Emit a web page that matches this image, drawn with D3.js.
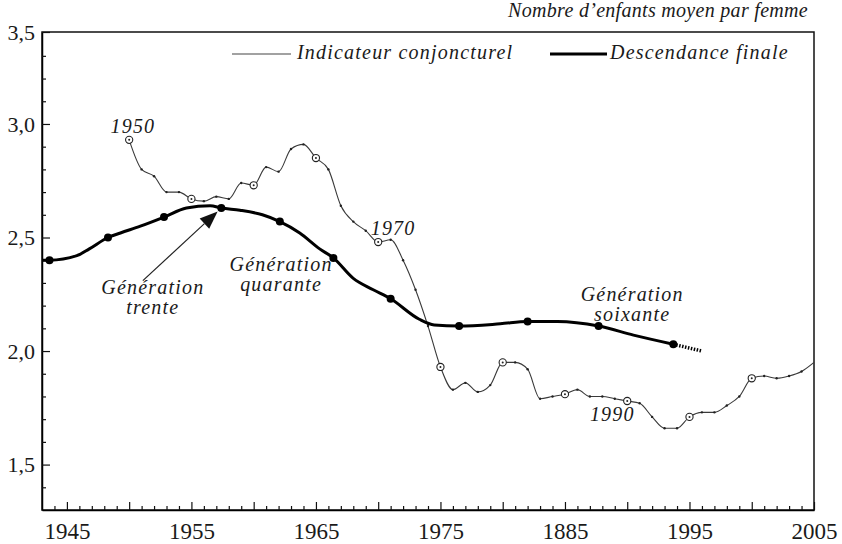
<!DOCTYPE html>
<html>
<head>
<meta charset="utf-8">
<script src="https://cdn.jsdelivr.net/npm/d3@7"></script>
</head>
<body style="margin:0;background:#fff">
<svg width="842" height="544" font-family="Liberation Serif"></svg>
<script>
// Indicateur conjoncturel de fécondité, one value per year from 1950
const tfrYears = d3.range(1950, 2006);
const tfrValues = [
  2.93, 2.80, 2.77, 2.70, 2.70, 2.67, 2.66, 2.68, 2.67, 2.74,
  2.73, 2.81, 2.79, 2.89, 2.91, 2.85, 2.80, 2.64, 2.57, 2.53,
  2.48, 2.49, 2.40, 2.27, 2.11, 1.93, 1.83, 1.86, 1.82, 1.85,
  1.95, 1.95, 1.92, 1.79, 1.80, 1.81, 1.83, 1.80, 1.80, 1.79,
  1.78, 1.77, 1.71, 1.66, 1.66, 1.71, 1.73, 1.73, 1.76, 1.80,
  1.88, 1.89, 1.88, 1.89, 1.91, 1.95
];
const tfrMarkerYears = [1950, 1955, 1960, 1965, 1970, 1975, 1980, 1985, 1990, 1995, 2000];

// Descendance finale, plotted at generation + mean age at childbearing
const dfX = [1943, 1943.6, 1945.8, 1946.8, 1948.3, 1949.3, 1950.9, 1952.8, 1954.6, 1956.5,
  1957.4, 1958.9, 1960.7, 1962.1, 1963.7, 1965.3, 1966.4, 1968.0, 1969.6, 1971.0,
  1973.3, 1974.5, 1976.5, 1979.8, 1982.0, 1984.4, 1987.7, 1990.5, 1993.7];
const dfValues = [2.40, 2.40, 2.42, 2.45, 2.50, 2.52, 2.55, 2.59, 2.63, 2.64,
  2.63, 2.62, 2.60, 2.57, 2.52, 2.45, 2.41, 2.32, 2.27, 2.23,
  2.14, 2.115, 2.11, 2.12, 2.13, 2.13, 2.11, 2.07, 2.03];
// uncertain tail (generations still in progress)
const dfTailX = [1993.7, 1996.0];
const dfTailValues = [2.03, 2.00];

// generation markers
const genBirth = [1915, 1920, 1925, 1930, 1935, 1940, 1945, 1950, 1955, 1960, 1965];
const genX = [1943.6, 1948.3, 1952.8, 1957.4, 1962.1, 1966.4, 1971.0, 1976.5, 1982.0, 1987.7, 1993.7];
const genValues = [2.40, 2.50, 2.59, 2.63, 2.57, 2.41, 2.23, 2.11, 2.13, 2.11, 2.03];

const xDomain = [1943, 2005];
const yDomain = [1.3, 3.405];
const xMajorTicks = d3.range(1945, 2006, 5);
const xLabelTicks = [1945, 1955, 1965, 1975, 1985, 1995, 2005];
const xTickLabels = ["1945", "1955", "1965", "1975", "1885", "1995", "2005"];
const yTickValues = [1.5, 2.0, 2.5, 3.0, 3.405];
const yTickLabels = ["1,5", "2,0", "2,5", "3,0", "3,5"];

const FONT = "Liberation Serif";
const INK = "#1a1a1a";

const svg = d3.select("svg");
const width = +svg.attr("width");
const height = +svg.attr("height");
const margin = { top: 32, right: 28, bottom: 34, left: 42 };
const w = width - margin.left - margin.right;
const h = height - margin.top - margin.bottom;

const x = d3.scaleLinear().domain(xDomain).range([0, w]);
const y = d3.scaleLinear().domain(yDomain).range([h, 0]);

const g = svg.append("g").attr("transform", `translate(${margin.left},${margin.top})`);

// serif label helpers
const serif = (sel, size) => sel.attr("font-family", FONT).attr("font-size", size).attr("fill", INK);
const italic = sel => serif(sel, 20).attr("font-style", "italic").attr("letter-spacing", 1.2);

// frame
g.append("rect").attr("width", w).attr("height", h)
  .attr("fill", "none").attr("stroke", "#111").attr("stroke-width", 1.5);

// y axis
g.append("g")
  .call(d3.axisLeft(y).tickValues(yTickValues).tickSizeInner(-8).tickSizeOuter(0).tickPadding(7)
    .tickFormat((d, i) => yTickLabels[i]))
  .attr("font-family", FONT)
  .call(a => a.select(".domain").attr("stroke-width", 1.5))
  .call(a => a.selectAll("text").call(serif, 22));
g.append("g")
  .call(d3.axisLeft(y).tickValues(d3.range(14, 34).map(v => v / 10).filter(v => Math.round(v * 10) % 5 !== 0))
    .tickSizeInner(-4).tickSizeOuter(0).tickFormat(""))
  .call(a => a.select(".domain").remove());

// x axis
g.append("g").attr("transform", `translate(0,${h})`)
  .call(d3.axisBottom(x).tickValues(xMajorTicks).tickSizeInner(-8).tickSizeOuter(0).tickPadding(13)
    .tickFormat(d => { const i = xLabelTicks.indexOf(d); return i < 0 ? "" : xTickLabels[i]; }))
  .attr("font-family", FONT)
  .call(a => a.select(".domain").attr("stroke-width", 1.5))
  .call(a => a.selectAll("text").call(serif, 23));
g.append("g").attr("transform", `translate(0,${h})`)
  .call(d3.axisBottom(x).tickValues(d3.range(1944, 2005).filter(v => v % 5 !== 0))
    .tickSizeInner(-4).tickSizeOuter(0).tickFormat(""))
  .call(a => a.select(".domain").remove());

g.selectAll(".tick line").attr("stroke", "#111").attr("stroke-width", 1.2);

// thin line: indicateur conjoncturel
const tfr = tfrYears.map((yr, i) => ({ x: yr, v: tfrValues[i] }));
const tfrMarks = tfr.filter(d => tfrMarkerYears.includes(d.x));
const line = d3.line().x(d => x(d.x)).y(d => y(d.v)).curve(d3.curveMonotoneX);
g.append("path").datum(tfr).attr("d", line)
  .attr("fill", "none").attr("stroke", "#3a3a3a").attr("stroke-width", 1.1);
g.selectAll(".tfrdot").data(tfr.slice(0, -1)).join("circle")
  .attr("cx", d => x(d.x)).attr("cy", d => y(d.v)).attr("r", 1.2).attr("fill", "#222");
g.selectAll(".tfrmark").data(tfrMarks).join("circle")
  .attr("cx", d => x(d.x)).attr("cy", d => y(d.v)).attr("r", 3.6)
  .attr("fill", "#fff").attr("stroke", "#222").attr("stroke-width", 1.1);
g.selectAll(".tfrcentre").data(tfrMarks).join("circle")
  .attr("cx", d => x(d.x)).attr("cy", d => y(d.v)).attr("r", 1).attr("fill", "#222");

// thick line: descendance finale
const df = dfX.map((xx, i) => ({ x: xx, v: dfValues[i] }));
g.append("path").datum(df).attr("d", line)
  .attr("fill", "none").attr("stroke", "#000").attr("stroke-width", 3);
const tail = dfTailX.map((xx, i) => ({ x: xx, v: dfTailValues[i] }));
g.append("path").datum(tail).attr("d", line)
  .attr("fill", "none").attr("stroke", "#000").attr("stroke-width", 3.5)
  .attr("stroke-dasharray", "1.5,1.5");
g.selectAll(".gen").data(genX).join("circle")
  .attr("cx", d => x(d)).attr("cy", (d, i) => y(genValues[i])).attr("r", 4).attr("fill", "#000");

// arrow to génération trente
const tailPt = [x(1951.1), y(2.31)];
const target = [x(genX[3]), y(genValues[3])];
const dx = target[0] - tailPt[0], dy = target[1] - tailPt[1];
const len = Math.hypot(dx, dy);
const ux = dx / len, uy = dy / len;
const tip = [target[0] - ux * 5, target[1] - uy * 5];
const headLen = 18, headW = 7;
const base = [tip[0] - ux * headLen, tip[1] - uy * headLen];
g.append("line").attr("x1", tailPt[0]).attr("y1", tailPt[1]).attr("x2", base[0]).attr("y2", base[1])
  .attr("stroke", "#222").attr("stroke-width", 1.2);
g.append("polygon")
  .attr("points", [tip, [base[0] - uy * headW, base[1] + ux * headW], [base[0] + uy * headW, base[1] - ux * headW]]
    .map(p => p.join(",")).join(" "))
  .attr("fill", "#111");

// annotations (baseline of first line)
const notes = [
  { x: 1950.3, v: 2.96, lines: ["1950"] },
  { x: 1971.2, v: 2.512, lines: ["1970"] },
  { x: 1988.8, v: 1.693, lines: ["1990"] },
  { x: 1951.9, v: 2.252, lines: ["Génération", "trente"] },
  { x: 1962.2, v: 2.353, lines: ["Génération", "quarante"] },
  { x: 1990.4, v: 2.221, lines: ["Génération", "soixante"] }
];
notes.forEach(n => {
  const t = g.append("text").call(italic).attr("text-anchor", "middle")
    .attr("x", x(n.x)).attr("y", y(n.v));
  n.lines.forEach((s, i) => t.append("tspan").attr("x", x(n.x)).attr("dy", i ? 20 : 0).text(s));
});

// title and legend
svg.append("text").call(italic).attr("x", 808).attr("y", 17).attr("text-anchor", "end")
  .attr("letter-spacing", 0.3).text("Nombre d’enfants moyen par femme");
const lg = svg.append("g");
lg.append("line").attr("x1", 232).attr("x2", 291).attr("y1", 54).attr("y2", 54)
  .attr("stroke", "#444").attr("stroke-width", 1.2);
lg.append("text").call(italic).attr("x", 297).attr("y", 59).text("Indicateur conjoncturel");
lg.append("line").attr("x1", 550).attr("x2", 607).attr("y1", 54).attr("y2", 54)
  .attr("stroke", "#000").attr("stroke-width", 3);
lg.append("text").call(italic).attr("x", 610).attr("y", 59).text("Descendance finale");
</script>
</body>
</html>
